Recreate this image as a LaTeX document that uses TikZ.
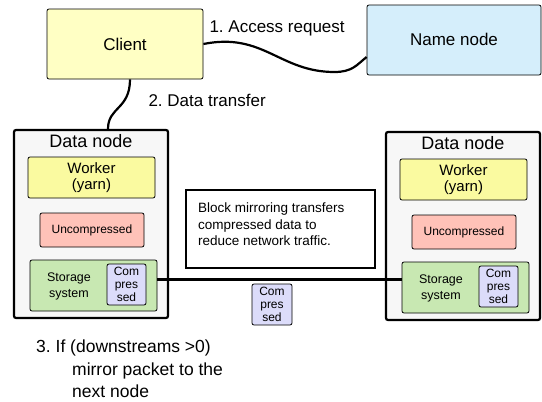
\documentclass[tikz,border=0pt]{standalone}
\usepackage{fontspec}
\setmainfont{Liberation Sans}
\definecolor{clientyellow}{RGB}{255,255,196}
\definecolor{namenodeblue}{RGB}{213,238,251}
\definecolor{workeryellow}{RGB}{250,250,160}
\definecolor{rawpink}{RGB}{255,194,184}
\definecolor{storagegreen}{RGB}{200,232,178}
\definecolor{packetblue}{RGB}{220,220,250}
\frenchspacing
\begin{document}
\begin{tikzpicture}[x=1pt, y=-1pt, % pixel grid, y downwards
  box/.style={draw, rounded corners=2pt, line width=0.8pt, inner sep=0pt, align=center},
  datanode/.style={draw, line width=2.2pt, rounded corners=2pt, fill=black!3,
    minimum width=154pt, minimum height=188pt},
  wire/.style={line width=2.2pt},
  big/.style={font=\fontsize{17}{21}\selectfont},
  mid/.style={font=\fontsize{15}{15.5}\selectfont},
  small/.style={font=\fontsize{12}{12.7}\selectfont}
]
  \useasboundingbox (0,0) rectangle (542,402);

  % Top row: client and name node
  \node[box, big, fill=clientyellow, minimum width=156pt, minimum height=70pt] (client) at (125,44) {\raisebox{-2pt}{Client}};
  \node[box, big, fill=namenodeblue, minimum width=174pt, minimum height=70pt] (name) at (454,40) {\raisebox{2pt}{Name node}};

  % Data nodes (left and right)
  \foreach \S/\X/\Y in {L/91/224, R/463/226} {
    \node[datanode] (dn\S) at (\X,\Y) {};
    \node[font=\fontsize{18}{20}\selectfont, anchor=base] (dn\S title) at ([yshift=-19pt]dn\S.north) {Data node};
    \node[box, mid, fill=workeryellow, minimum width=127pt, minimum height=41pt] (wk\S) at (\X+0.5,\Y-46.5) {Worker\\(yarn)};
    \node[box, small, fill=rawpink, minimum width=104pt, minimum height=34pt] (un\S) at (\X+1,\Y+6) {Uncompressed};
    \node[box, fill=storagegreen, minimum width=127pt, minimum height=51pt] (st\S) at (\X+2.5,\Y+61.5) {};
    \node[font=\fontsize{12.5}{15.5}\selectfont, align=center] (st\S txt) at (\X-22,\Y+62.5) {Storage\\system};
    \node[box, small, fill=packetblue, minimum width=39pt, minimum height=41pt] (cp\S) at (\X+35.5,\Y+60.5) {Com\\pres\\sed};
  }

  % Mirroring note
  \node[draw, line width=2.6pt, minimum width=189pt, minimum height=78pt] (note) at (280.5,229) {};
  \node[anchor=north west, align=left, inner sep=0pt, font=\fontsize{13.5}{16.5}\selectfont] (notetxt) at (198,203)
    {Block mirroring transfers\\compressed data to\\reduce network traffic.};

  % Mirror link and packet in flight
  \draw[wire] ([yshift=6pt]stL.east) -- ([yshift=6pt]stL.east -| stR.west);
  \node[box, small, fill=packetblue, minimum width=40pt, minimum height=41pt] (pkt) at (272,304.5) {Com\\pres\\sed};

  % Wavy links
  \draw[wire] (client.east) .. controls +(60,-12) and +(-55,0) .. ++(131,28)
    .. controls +(18,0) and +(-10,8) .. ([yshift=-17pt]name.west);
  \draw[wire] ([xshift=5pt]client.south) .. controls +(0,30) and +(0,-22) .. ([xshift=17pt]dnL.north);

  % Step labels
  \node[big, anchor=base west] (acc) at (206,32) {1. Access request};
  \node[big, anchor=base west] (xfer) at (145,106) {2. Data transfer};
  \node[font=\fontsize{17.5}{22.5}\selectfont, anchor=north west, align=left, inner sep=0pt] (mirror) at (36,340)
    {3. If (downstreams >0)\\\hspace*{36pt}mirror packet to the\\\hspace*{36pt}next node};
\end{tikzpicture}
\end{document}
